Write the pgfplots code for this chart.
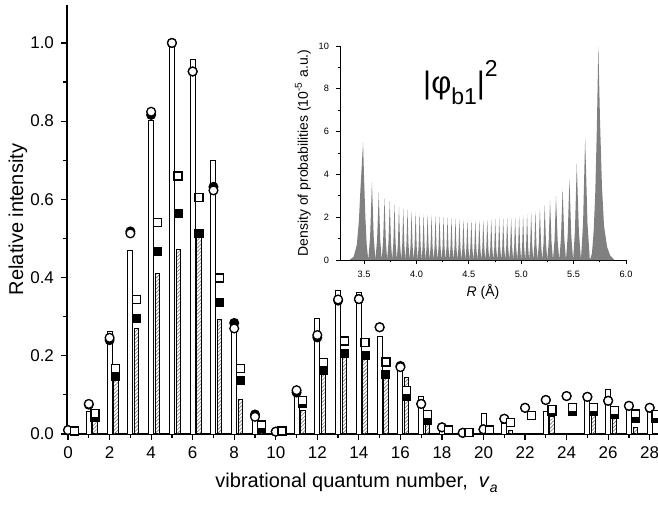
\documentclass[border=0pt]{standalone}
\usepackage{fontspec}
\setmainfont{Liberation Sans}
\usepackage{pgfplots}
\usepackage{pgfplotstable}
\pgfplotsset{compat=1.18}
\usetikzlibrary{patterns.meta}

% v, v+0.3, white bar, open circle, filled circle, hatched bar, open square, filled square
\pgfplotstableread{
v  s    wb    oc    fc    hb    os    fs
0  0.3  0.005 0.010 0.010 0.003 0.008 0.008
1  1.3  0.057 0.077 0.075 0.038 0.052 0.043
2  2.3  0.262 0.246 0.240 0.138 0.168 0.147
3  3.3  0.469 0.513 0.518 0.269 0.344 0.296
4  4.3  0.801 0.824 0.816 0.411 0.541 0.466
5  5.3  0.995 1.000 1.000 0.472 0.660 0.563
6  6.3  0.958 0.927 0.927 0.505 0.604 0.513
7  7.3  0.699 0.623 0.632 0.292 0.399 0.336
8  8.3  0.283 0.270 0.284 0.089 0.167 0.137
9  9.3  0.040 0.044 0.050 0.010 0.023 0.015
10 10.3 0.005 0.006 0.006 0.002 0.008 0.008
11 11.3 0.108 0.112 0.106 0.061 0.085 0.077
12 12.3 0.296 0.253 0.247 0.155 0.182 0.162
13 13.3 0.367 0.344 0.341 0.202 0.238 0.206
14 14.3 0.361 0.345 0.345 0.200 0.234 0.200
15 15.3 0.249 0.273 0.273 0.153 0.184 0.153
16 16.3 0.164 0.171 0.174 0.145 0.111 0.095
17 17.3 0.097 0.077 0.077 0.030 0.049 0.036
18 18.3 0.010 0.017 0.017 0.003 0.010 0.010
19 19.3 0.002 0.003 0.003 0.001 0.003 0.003
20 20.3 0.053 0.012 0.012 0.005 0.010 0.010
21 21.3 0.027 0.039 0.039 0.010 0.029 0.029
22 22.3 0.000 0.067 0.067 0.000 0.048 0.048
23 23.3 0.057 0.087 0.087 0.046 0.063 0.057
24 24.3 0.000 0.097 0.097 0.000 0.067 0.059
25 25.3 0.087 0.095 0.095 0.051 0.067 0.057
26 26.3 0.114 0.085 0.085 0.043 0.060 0.049
27 27.3 0.063 0.072 0.072 0.017 0.051 0.040
28 28.3 0.057 0.067 0.067 0.000 0.049 0.040
}\spec

\begin{document}
\begin{tikzpicture}
\begin{axis}[
  name=main,
  at={(0,0)}, anchor=south west,
  scale only axis,
  width=295.5pt, height=214.5pt,
  xmin=-0.05, xmax=28.4,
  ymin=0, ymax=1.097,
  axis x line=bottom, axis y line=left,
  axis line style={-, line width=0.6pt},
  tick align=outside,
  major tick length=3pt, minor tick length=2pt,
  tick style={line width=0.6pt, black},
  xtick={0,2,...,28},
  minor xtick={1,3,...,27},
  ytick={0,0.2,0.4,0.6,0.8,1.0},
  minor ytick={0.1,0.3,0.5,0.7,0.9},
  yticklabel style={/pgf/number format/.cd, fixed, fixed zerofill, precision=1},
  /pgf/number format/assume math mode=true,
  tick label style={font=\fontsize{8.5}{10}\selectfont},
  label style={font=\fontsize{10}{12}\selectfont},
  ylabel={Relative intensity},
  ylabel style={at={(axis description cs:-0.083,0.5)}, anchor=center},
  xlabel={vibrational quantum number,\ \ \textit{v}\raisebox{-0.45ex}{\fontsize{7}{8}\selectfont\itshape a}},
  xlabel style={at={(axis description cs:0.49,-0.114)}, anchor=center},
  clip=false,
]
\addplot[ybar, bar width=0.24, bar shift=0pt, draw=black, line width=0.5pt, fill=white]
  table[x=v, y=wb]{\spec};
\addplot[ybar, bar width=0.21, bar shift=0pt, draw=black, line width=0.45pt,
  pattern={Lines[angle=45, distance=1.3pt, line width=0.3pt]}, pattern color=black!55]
  table[x=s, y=hb]{\spec};
\addplot[only marks, mark=*, mark size=2.2pt, mark options={draw=black, fill=black, line width=0.6pt}]
  table[x=v, y=fc]{\spec};
\addplot[only marks, mark=square*, mark size=2pt, mark options={draw=black, fill=black, line width=0.6pt}]
  table[x=s, y=fs]{\spec};
\addplot[only marks, mark=*, mark size=2.2pt, mark options={draw=black, fill=white, line width=0.65pt}]
  table[x=v, y=oc]{\spec};
\addplot[only marks, mark=square*, mark size=2pt, mark options={draw=black, fill=white, line width=0.65pt}]
  table[x=s, y=os]{\spec};
\end{axis}

\begin{axis}[
  name=inset,
  at={(136.5pt,87pt)}, anchor=south west,
  scale only axis,
  width=143pt, height=107pt,
  xmin=3.27, xmax=6.0,
  ymin=0, ymax=10,
  axis x line=bottom, axis y line=left,
  axis line style={-, line width=0.4pt},
  tick align=outside,
  major tick length=2pt, minor tick length=1.2pt,
  tick style={line width=0.4pt, black},
  xtick={3.5,4.0,4.5,5.0,5.5,6.0},
  minor xtick={3.75,4.25,4.75,5.25,5.75},
  ytick={0,2,4,6,8,10},
  minor ytick={1,3,5,7,9},
  xticklabel style={/pgf/number format/.cd, fixed, fixed zerofill, precision=1},
  /pgf/number format/assume math mode=true,
  tick label style={font=\fontsize{4.6}{5}\selectfont},
  label style={font=\fontsize{7}{8}\selectfont},
  ylabel={Density of probabilities (10\textsuperscript{-5} a.u.)},
  ylabel style={at={(axis description cs:-0.13,0.5)}, anchor=center},
  xlabel={\textit{R} (Å)},
  xlabel style={at={(axis description cs:0.5,-0.15)}, anchor=center},
]
\addplot[fill=black!50, draw=none] coordinates {
(3.36,0) (3.40,0.15) (3.43,0.7) (3.45,1.8) (3.465,3.3) (3.49,5.5) (3.50,3.8) (3.512,2.0) (3.525,0.7) (3.54,0)
(3.5575,1.1) (3.575,3.65) (3.5915,1.1) (3.608,0)
(3.624,0.95) (3.64,3.15) (3.654,0.95) (3.668,0)
(3.6815,0.87) (3.695,2.9) (3.7075,0.87) (3.72,0)
(3.7325,0.83) (3.745,2.75) (3.7565,0.83) (3.768,0)
(3.779,0.78) (3.79,2.6) (3.801,0.78) (3.812,0)
(3.8225,0.75) (3.833,2.5) (3.8435,0.75) (3.854,0)
(3.864,0.73) (3.874,2.42) (3.884,0.73) (3.894,0)
(3.904,0.71) (3.914,2.36) (3.924,0.71) (3.934,0)
(3.9435,0.69) (3.953,2.3) (3.9625,0.69) (3.972,0)
(3.982,0.67) (3.992,2.24) (4.0015,0.67) (4.011,0)
(4.0205,0.66) (4.030,2.2) (4.0395,0.66) (4.049,0)
(4.0585,0.65) (4.068,2.16) (4.0775,0.65) (4.087,0)
(4.0965,0.64) (4.106,2.13) (4.1155,0.64) (4.125,0)
(4.1345,0.63) (4.144,2.1) (4.1535,0.63) (4.163,0)
(4.1725,0.62) (4.182,2.07) (4.1915,0.62) (4.201,0)
(4.2105,0.61) (4.220,2.04) (4.2295,0.61) (4.239,0)
(4.2485,0.60) (4.258,2.01) (4.2675,0.60) (4.277,0)
(4.2865,0.59) (4.296,1.98) (4.3055,0.59) (4.315,0)
(4.3245,0.59) (4.334,1.96) (4.3435,0.59) (4.353,0)
(4.3625,0.58) (4.372,1.94) (4.3815,0.58) (4.391,0)
(4.4005,0.58) (4.410,1.92) (4.4195,0.58) (4.429,0)
(4.4385,0.57) (4.448,1.91) (4.4575,0.57) (4.467,0)
(4.4765,0.57) (4.486,1.90) (4.4955,0.57) (4.505,0)
(4.5145,0.57) (4.524,1.89) (4.5335,0.57) (4.543,0)
(4.5525,0.56) (4.562,1.88) (4.5715,0.56) (4.581,0)
(4.5905,0.56) (4.600,1.88) (4.6095,0.56) (4.619,0)
(4.6285,0.56) (4.638,1.88) (4.6475,0.56) (4.657,0)
(4.6665,0.57) (4.676,1.89) (4.6855,0.57) (4.695,0)
(4.7045,0.57) (4.714,1.90) (4.7235,0.57) (4.733,0)
(4.7425,0.57) (4.752,1.91) (4.7615,0.57) (4.771,0)
(4.7805,0.58) (4.790,1.92) (4.7995,0.58) (4.809,0)
(4.8185,0.58) (4.828,1.94) (4.8375,0.58) (4.847,0)
(4.8565,0.59) (4.866,1.96) (4.8755,0.59) (4.885,0)
(4.8945,0.59) (4.904,1.98) (4.9135,0.59) (4.923,0)
(4.9325,0.60) (4.942,2.01) (4.9515,0.60) (4.961,0)
(4.9705,0.62) (4.980,2.05) (4.9895,0.62) (4.999,0)
(5.0085,0.63) (5.018,2.09) (5.0275,0.63) (5.037,0)
(5.0465,0.64) (5.056,2.14) (5.0655,0.64) (5.075,0)
(5.085,0.66) (5.095,2.20) (5.105,0.66) (5.115,0)
(5.125,0.68) (5.135,2.28) (5.1455,0.68) (5.156,0)
(5.167,0.72) (5.178,2.40) (5.1895,0.72) (5.201,0)
(5.2125,0.77) (5.224,2.58) (5.2365,0.77) (5.249,0)
(5.262,0.84) (5.275,2.80) (5.289,0.84) (5.303,0)
(5.3175,0.90) (5.332,3.00) (5.3475,0.90) (5.363,0)
(5.379,1.00) (5.395,3.35) (5.411,1.00) (5.427,0)
(5.4435,1.14) (5.460,3.80) (5.4775,1.14) (5.495,0)
(5.5125,1.35) (5.530,4.50) (5.55,1.35) (5.570,0)
(5.59,1.70) (5.610,5.70) (5.6325,1.70) (5.655,0)
(5.675,0.3) (5.692,1.4) (5.707,3.2) (5.722,6.2) (5.736,10) (5.752,6.5) (5.77,3.5) (5.79,1.6) (5.82,0.6) (5.85,0.2) (5.89,0)
} \closedcycle;
\node[font=\fontsize{15.5}{18}\selectfont] at (axis cs:4.42,8.3)
  {|φ\raisebox{-0.35em}{\fontsize{11.5}{12}\selectfont b1}|\raisebox{0.55em}{\fontsize{11.5}{12}\selectfont 2}};
\end{axis}
\pgfresetboundingbox
\path (-33.5pt,-35pt) rectangle (295.5pt,217pt);
\end{tikzpicture}
\end{document}
